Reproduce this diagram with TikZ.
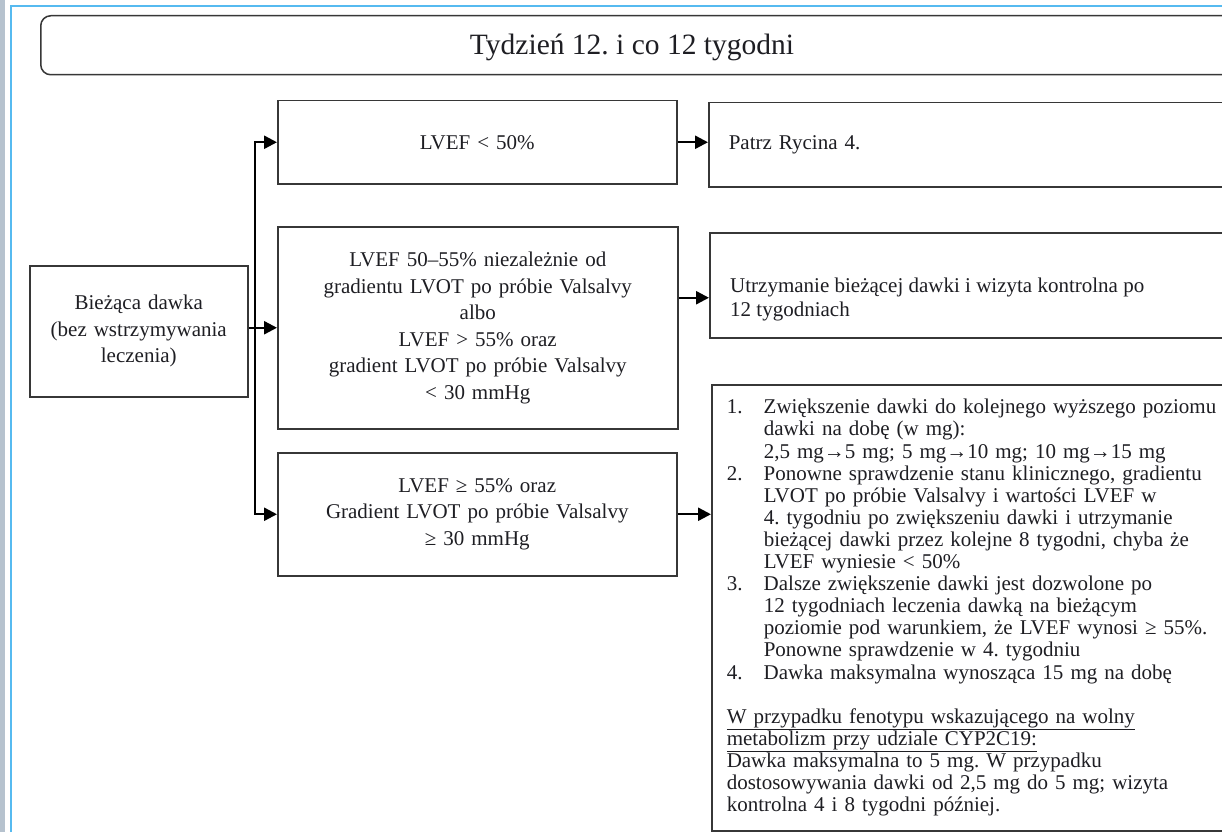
\documentclass[tikz,border=0pt]{standalone}
\usepackage{fontspec}
\setmainfont{Liberation Serif}
\usetikzlibrary{arrows.meta}
\frenchspacing
\definecolor{boxc}{RGB}{55,55,55}
\definecolor{txtc}{RGB}{30,30,35}
\definecolor{framegray}{RGB}{182,194,206}
\definecolor{frameblue}{RGB}{86,186,240}
\newcommand\mybody{\fontsize{21}{26.5}\selectfont}
\newcommand\mylist{\fontsize{21}{22.1}\selectfont}
\newcommand\mytitle{\fontsize{29.5}{34}\selectfont}
\newcommand\myind{\hspace*{37pt}}
\newcommand\mynum[1]{\makebox[37pt][l]{#1}}
\tikzset{
  box/.style={draw=boxc, line width=1.5pt, anchor=north west, inner xsep=6pt, inner ysep=0pt,
              align=center, font=\mybody, text=txtc},
  conn/.style={line width=2.4pt, -{Triangle[length=13pt,width=13pt]}}
}
\begin{document}
\begin{tikzpicture}[x=1pt,y=-1pt]
\useasboundingbox (0,0) rectangle (1222,832);
\clip (0,0) rectangle (1222,832);
\fill[white] (0,0) rectangle (1222,832);
% frame
\fill[framegray] (0,0) rectangle (4.5,832);
\draw[frameblue, line width=2pt] (11.3,832) -- (11.3,6) -- (1222,6);
% title
\node[box, rounded corners=10pt, minimum width=1220pt, minimum height=59pt] (titlebox) at (40,15) {};
\node[anchor=base, font=\mytitle, text=txtc] (title) at (632,55) {Tydzień 12. i co 12 tygodni};
% left
\node[box, minimum width=218pt, minimum height=131pt, text width=206pt] (start) at (29,265)
  {Bieżąca dawka\\(bez wstrzymywania\\leczenia)};
% middle column
\node[box, minimum width=399pt, minimum height=83pt, text width=387pt] (lv50) at (277,100) {LVEF < 50\%};
\node[box, minimum width=400pt, minimum height=202pt, text width=388pt] (mid) at (277,226)
  {LVEF 50–55\% niezależnie od\\gradientu LVOT po próbie Valsalvy\\albo\\LVEF > 55\% oraz\\gradient LVOT po próbie Valsalvy\\< 30 mmHg};
\node[box, minimum width=399pt, minimum height=123pt, text width=387pt] (high) at (277,452)
  {LVEF ≥ 55\% oraz\\Gradient LVOT po próbie Valsalvy\\≥ 30 mmHg};
% right column
\node[box, align=left, inner xsep=20pt, minimum width=552pt, minimum height=84pt, text width=512pt] (patrz) at (708,102)
  {Patrz Rycina 4.};
\node[box, minimum width=551pt, minimum height=105pt] (keep) at (709,232) {};
\node[anchor=west, align=left, font=\fontsize{21}{23.5}\selectfont, text=txtc, inner sep=0pt] (keeptxt) at (730,299.6)
  {Utrzymanie bieżącej dawki i wizyta kontrolna po\\12 tygodniach};
\node[box, align=left, inner xsep=15pt, minimum width=549pt, minimum height=446pt, text width=519pt, font=\mylist] (plan) at (711,384)
  {\mynum{1.}Zwiększenie dawki do kolejnego wyższego poziomu\\
   \myind dawki na dobę (w mg):\\
   \myind 2,5 mg→5 mg; 5 mg→10 mg; 10 mg→15 mg\\
   \mynum{2.}Ponowne sprawdzenie stanu klinicznego, gradientu\\
   \myind LVOT po próbie Valsalvy i wartości LVEF w\\
   \myind 4. tygodniu po zwiększeniu dawki i utrzymanie\\
   \myind bieżącej dawki przez kolejne 8 tygodni, chyba że\\
   \myind LVEF wyniesie < 50\%\\
   \mynum{3.}Dalsze zwiększenie dawki jest dozwolone po\\
   \myind 12 tygodniach leczenia dawką na bieżącym\\
   \myind poziomie pod warunkiem, że LVEF wynosi ≥ 55\%.\\
   \myind Ponowne sprawdzenie w 4. tygodniu\\
   \mynum{4.}Dawka maksymalna wynosząca 15 mg na dobę\\[22.1pt]
   \underline{W przypadku fenotypu wskazującego na wolny}\\
   \underline{metabolizm przy udziale CYP2C19:}\\
   Dawka maksymalna to 5 mg. W przypadku\\
   dostosowywania dawki od 2,5 mg do 5 mg; wizyta\\
   kontrolna 4 i 8 tygodni później.};
% connectors
\coordinate (split) at (255,327);
\draw[conn] (start.east |- mid.west) -- (mid.west);
\draw[conn] (split) |- (lv50.west);
\draw[conn] (split) |- (high.west);
\draw[conn] (lv50.east) -- (lv50.east -| patrz.west);
\draw[conn] ([yshift=30pt]mid.east) -- ([yshift=30pt]mid.east -| keep.west);
\draw[conn] (high.east) -- (high.east -| plan.west);
\end{tikzpicture}
\end{document}
